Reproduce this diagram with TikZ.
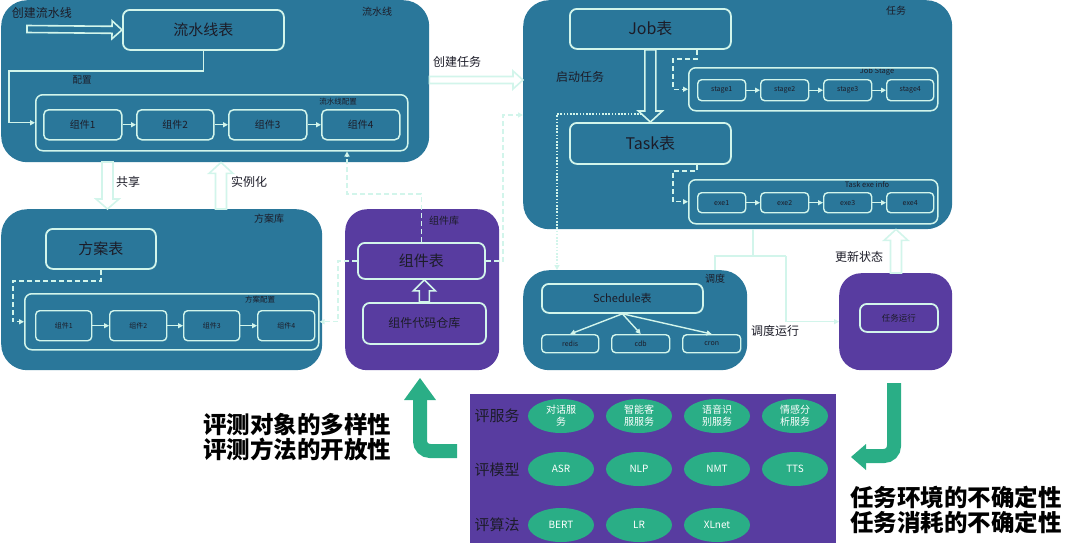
\documentclass[tikz,border=0pt]{standalone}
\usepackage{fontspec}
\setmainfont{Noto Sans CJK SC}
\usetikzlibrary{calc,arrows.meta,shapes.geometric}
\definecolor{tealc}{HTML}{2A779A}
\definecolor{purpc}{HTML}{583CA0}
\definecolor{mint}{HTML}{D2F5EB}
\definecolor{greenc}{HTML}{2AAE86}
\definecolor{txt}{HTML}{1C1C28}
\newcommand{\bx}[6]{\node[#1,anchor=north west,minimum width={#4-#2},minimum height={#5-#3}] (#6) at (#2,#3)}
\newcommand{\harrow}[6]{%
  \path ($(#2)!#6pt!(#1)$) coordinate (hb);
  \filldraw[hollow, fill=#3] ($(#1)!#4pt!90:(#2)$) -- ($(hb)!#4pt!-90:(#1)$) -- ($(hb)!#5pt!-90:(#1)$) -- (#2) -- ($(hb)!#5pt!90:(#1)$) -- ($(hb)!#4pt!90:(#1)$) -- ($(#1)!#4pt!-90:(#2)$) -- cycle;}
\begin{document}
\begin{tikzpicture}[x=1pt,y=-1pt,
  bigbox/.style={fill=tealc,draw=none,rounded corners=26,inner sep=0},
  pbox/.style={fill=purpc,draw=none,rounded corners=22,inner sep=0},
  tbl/.style={draw=mint,line width=1.8,rounded corners=7,inner sep=0,text=txt},
  cont/.style={draw=mint,line width=1.5,rounded corners=7,inner sep=0},
  sm/.style={draw=mint,line width=1.4,rounded corners=4,inner sep=0,text=txt,font=\fontsize{7}{8}\selectfont},
  lbl/.style={text=txt,inner sep=0},
  conn/.style={draw=mint,line width=1.4,-{Triangle[length=5,width=5]}},
  dconn/.style={conn,dash pattern=on 5 off 3},
  dotconn/.style={conn,line width=2,dash pattern=on 1.6 off 1.6},
  plain/.style={draw=mint,line width=1.5},
  hollow/.style={draw=mint,line width=1.6,line join=miter},
  ell/.style={ellipse,fill=greenc,text=white,minimum width=66,minimum height=34,inner sep=0,align=center,font=\fontsize{10}{12}\selectfont},
  rowl/.style={text=txt,inner sep=0,font=\fontsize{15}{18}\selectfont},
  garrow/.style={draw=greenc,line width=14,rounded corners=10},
  big/.style={text=black,inner sep=0,align=center,font=\bfseries\fontsize{23.5}{25.5}\selectfont}]
\useasboundingbox (0,0) rectangle (1080,555);

% ---------- big boxes ----------
\bx{bigbox}{1}{0}{429}{162}{pipe}{};
\bx{bigbox}{1}{209}{322}{370}{fang}{};
\bx{pbox}{345}{209}{499}{370}{zjk}{};
\bx{bigbox}{523}{0}{952}{229}{task}{};
\bx{bigbox}{523}{270}{747}{370}{schbox}{};
\bx{pbox}{839}{273}{952}{370}{run}{};
\bx{pbox,rounded corners=0}{470}{394}{836}{543}{eval}{};

% ---------- labels ----------
\node[lbl,font=\fontsize{12}{14}\selectfont] (t1) at (42,13) {创建流水线};
\node[lbl,font=\fontsize{10}{12}\selectfont] (t2) at (377,12) {流水线};
\node[lbl,font=\fontsize{9.5}{11}\selectfont] (t3) at (82,80) {配置};
\node[lbl,font=\fontsize{7.5}{9}\selectfont] (t4) at (338,102) {流水线配置};
\node[lbl,font=\fontsize{12}{14}\selectfont] (t5) at (128,182) {共享};
\node[lbl,font=\fontsize{12}{14}\selectfont] (t6) at (249,182) {实例化};
\node[lbl,font=\fontsize{10}{12}\selectfont] (t7) at (269,219) {方案库};
\node[lbl,font=\fontsize{7.5}{9}\selectfont] (t8) at (260,300) {方案配置};
\node[lbl,font=\fontsize{10}{12}\selectfont] (t9) at (444,221) {组件库};
\node[lbl,font=\fontsize{12}{14}\selectfont] (t10) at (457,62) {创建任务};
\node[lbl,font=\fontsize{10}{12}\selectfont] (t11) at (896,11) {任务};
\node[lbl,font=\fontsize{12}{14}\selectfont] (t12) at (580,77) {启动任务};
\node[lbl,font=\fontsize{7.5}{9}\selectfont] (t13) at (877,71) {Job Stage};
\node[lbl,font=\fontsize{7.5}{9}\selectfont] (t14) at (867,185) {Task exe info};
\node[lbl,font=\fontsize{10}{12}\selectfont] (t15) at (715,279) {调度};
\node[lbl,font=\fontsize{12}{14}\selectfont] (t16) at (775,331) {调度运行};
\node[lbl,font=\fontsize{12}{14}\selectfont] (t17) at (859,257) {更新状态};

% ---------- pipeline ----------
\bx{tbl,font=\fontsize{15}{18}\selectfont}{122}{9}{283}{49}{plt}{流水线表};
\bx{cont}{35}{94}{407}{150}{pcfg}{};
\bx{tbl,line width=1.5,rounded corners=5,font=\fontsize{10}{12}\selectfont}{43}{109}{121}{139}{p1}{组件1};
\bx{tbl,line width=1.5,rounded corners=5,font=\fontsize{10}{12}\selectfont}{136}{109}{213}{139}{p2}{组件2};
\bx{tbl,line width=1.5,rounded corners=5,font=\fontsize{10}{12}\selectfont}{228}{109}{306}{139}{p3}{组件3};
\bx{tbl,line width=1.5,rounded corners=5,font=\fontsize{10}{12}\selectfont}{321}{109}{399}{139}{p4}{组件4};
\draw[conn] (p1) -- (p2);
\draw[conn] (p2) -- (p3);
\draw[conn] (p3) -- (p4);
\coordinate (a1s) at (27,29);
\harrow{a1s}{plt.west}{tealc}{3.5}{9}{10}
\coordinate (c1) at (9,71);
\draw[conn] (plt.south) |- (c1) |- (pcfg.west);

% ---------- scheme library ----------
\bx{tbl,font=\fontsize{15}{18}\selectfont}{45}{228}{155}{268}{fab}{方案表};
\bx{cont}{24}{293}{318}{349}{fcfg}{};
\bx{sm}{35}{310}{91}{340}{f1}{组件1};
\bx{sm}{109}{310}{166}{340}{f2}{组件2};
\bx{sm}{183}{310}{239}{340}{f3}{组件3};
\bx{sm}{257}{310}{314}{340}{f4}{组件4};
\draw[conn] (f1) -- (f2);
\draw[conn] (f2) -- (f3);
\draw[conn] (f3) -- (f4);
\coordinate (c2) at (13,281);
\draw[dconn] (fab.south) |- (c2) |- (fcfg.west);

% share / instantiate
\coordinate (sh) at (107.5,162);
\harrow{sh}{fang.north -| sh}{white}{5.5}{11.5}{10}
\coordinate (in) at (221,0);
\harrow{fang.north -| in}{pipe.south -| in}{white}{5.5}{12}{11}

% ---------- component library ----------
\bx{tbl,font=\fontsize{15}{18}\selectfont}{357}{242}{484}{278}{zjb}{组件表};
\bx{tbl,font=\fontsize{12}{14}\selectfont}{362}{302}{485}{343}{zjc}{组件代码仓库};
\harrow{zjc.north}{zjb.south -| zjc.north}{purpc}{5}{11}{11}
\coordinate (d1) at (347,194);
\draw[dconn] (zjb.north) |- (d1) -- (d1 |- pcfg.south);
\coordinate (d2) at (338,0);
\draw[dconn] (zjb.west) -- (zjb.west -| d2) |- (fcfg.east);
\coordinate (d3) at (503,115);
\draw[dconn] (zjb.east) -| (d3) -- (task.west |- d3);

% create task
\coordinate (ct) at (0,80);
\harrow{pipe.east |- ct}{task.west |- ct}{white}{3.5}{9}{10}

% ---------- task ----------
\bx{tbl,font=\fontsize{16}{19}\selectfont}{569}{8}{730}{48}{job}{Job表};
\bx{tbl,font=\fontsize{16}{19}\selectfont}{569}{122}{730}{163}{tsk}{Task表};
\harrow{job.south}{tsk.north}{tealc}{5.5}{12}{11}
\bx{cont}{688}{67}{937}{110}{js}{};
\bx{sm}{697}{79}{745}{100}{s1}{stage1};
\bx{sm}{760}{79}{808}{100}{s2}{stage2};
\bx{sm}{823}{79}{871}{100}{s3}{stage3};
\bx{sm}{886}{79}{933}{100}{s4}{stage4};
\draw[conn] (s1) -- (s2);
\draw[conn] (s2) -- (s3);
\draw[conn] (s3) -- (s4);
\bx{cont}{688}{179}{937}{223}{te}{};
\bx{sm}{697}{192}{745}{212}{e1}{exe1};
\bx{sm}{760}{192}{808}{212}{e2}{exe2};
\bx{sm}{823}{192}{871}{212}{e3}{exe3};
\bx{sm}{886}{192}{933}{212}{e4}{exe4};
\draw[conn] (e1) -- (e2);
\draw[conn] (e2) -- (e3);
\draw[conn] (e3) -- (e4);
\coordinate (jd) at (697,0);
\coordinate (d4) at (673,59);
\coordinate (d5) at (673,171);
\draw[dconn] (job.south -| jd) |- (d4) |- (js.west);
\draw[dconn] (tsk.south -| jd) |- (d5) |- (te.west);

% ---------- schedule ----------
\bx{tbl,font=\fontsize{11}{13}\selectfont}{541}{283}{702}{312}{sch}{Schedule表};
\bx{sm}{541}{334}{598}{352}{redis}{redis};
\bx{sm}{611}{334}{669}{352}{cdb}{cdb};
\bx{sm}{682}{334}{740}{352}{cron}{cron};
\draw[conn] (sch.south) -- (redis.north);
\draw[conn] (sch.south) -- (cdb.north);
\draw[conn] (sch.south) -- (cron.north);
\coordinate (dt) at (642,114);
\coordinate (dtc) at (557,0);
\draw[dotconn] (dt) -| (dtc |- schbox.north);

% ---------- run ----------
\bx{tbl,font=\fontsize{8.5}{10}\selectfont}{859}{303}{937}{331}{runt}{任务运行};
\coordinate (j1) at (753,256);
\coordinate (j2) at (715,256);
\coordinate (j3) at (786,256);
\draw[plain] (task.south -| j1) -- (j1);
\draw[plain] (schbox.north -| j2) -- (j2) -- (j3);
\draw[conn] (j3) |- (run.west);
\harrow{run.north -| 896,0}{task.south -| 896,0}{white}{5.5}{12}{11}

% ---------- evaluation ----------
\node[rowl] (r1) at (497,416) {评服务};
\node[rowl] (r2) at (497,470) {评模型};
\node[rowl] (r3) at (497,525) {评算法};
\node[ell] (g11) at (561,416) {对话服\\务};
\node[ell] (g12) at (639,416) {智能客\\服服务};
\node[ell] (g13) at (717,416) {语音识\\别服务};
\node[ell] (g14) at (795,416) {情感分\\析服务};
\node[ell] (g21) at (561,469) {ASR};
\node[ell] (g22) at (639,469) {NLP};
\node[ell] (g23) at (717,469) {NMT};
\node[ell] (g24) at (795,469) {TTS};
\node[ell] (g31) at (561,525) {BERT};
\node[ell] (g32) at (639,525) {LR};
\node[ell] (g33) at (717,525) {XLnet};

% green arrows
\draw[garrow] (457,451) -- (420,451) -- (420,399);
\fill[greenc] (404,400) -- (420,378) -- (436,400) -- cycle;
\draw[garrow] (894,383) -- (894,456) -- (865,456);
\fill[greenc] (866,444) -- (851,457) -- (866,470) -- cycle;

\node[big] (bl) at (297,437) {评测对象的多样性\\评测方法的开放性};
\node[big] (br) at (956,510) {任务环境的不确定性\\任务消耗的不确定性};
\end{tikzpicture}
\end{document}
